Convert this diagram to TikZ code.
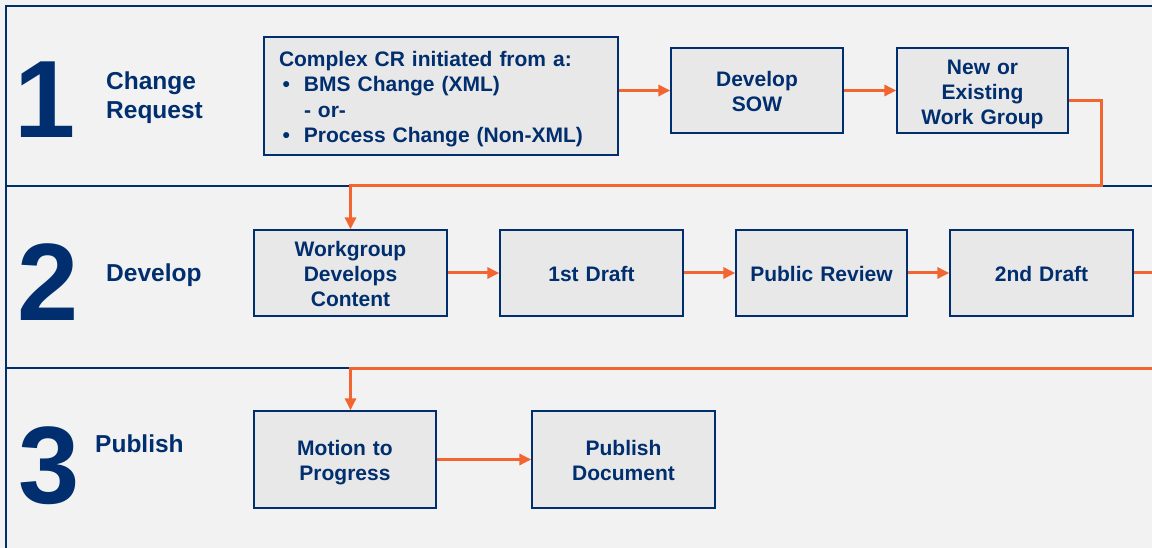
\documentclass[tikz,border=0pt]{standalone}
\usepackage{fontspec}
\setmainfont{Liberation Sans}
\usetikzlibrary{arrows.meta}
\definecolor{navy}{RGB}{0,46,110}
\definecolor{flowc}{RGB}{242,101,49}
\definecolor{panel}{RGB}{242,242,242}
\definecolor{boxfill}{RGB}{232,232,232}
\tikzset{
  stepbox/.style={draw=navy, line width=1.3pt, fill=boxfill, text=navy,
    font=\fontsize{21}{25}\selectfont\bfseries, text width=160, align=center, inner sep=0pt,
    execute at begin node={\rule{0pt}{21.5pt}},
    execute at end node={\rule[-4.3pt]{0pt}{4.3pt}}},
  flowline/.style={draw=flowc, line width=3pt, -{Triangle[length=12pt,width=11pt]}},
  phase/.style={text=navy, font=\fontsize{110}{110}\selectfont\bfseries,
    inner sep=0pt, anchor=base},
  phasename/.style={text=navy, font=\fontsize{24.5}{29}\selectfont\bfseries,
    inner sep=0pt, anchor=west, align=left}
}

\begin{document}
\begin{tikzpicture}[x=1pt,y=-1pt]
  \useasboundingbox (0,0) rectangle (1152,548);
  \clip (0,0) rectangle (1152,548);
  \fill[panel] (0,0) rectangle (1152,548);

  % frame and row dividers
  \draw[navy, line width=1.5pt] (1152,6) -- (6,6) -- (6,548);
  \foreach \y in {186, 368}{
    \draw[navy, line width=1.5pt] (6,\y) -- (1152,\y);
  };

  % phase numbers and names
  \node[phase] (num1) at (45,138) {1};
  \node[phase] (num2) at (48.5,320) {2};
  \node[phase] (num3) at (49.5,503) {3};
  \node[phasename] (name1) at (106,98) {Change\\Request};
  \node[phasename] (name2) at (106,275.5) {Develop};
  \node[phasename] (name3) at (95,444) {Publish};

  % row 1
  \node[stepbox, minimum width=354, minimum height=118, text width=324, align=left,
    font=\fontsize{21}{25.5}\selectfont\bfseries]
    (cr) at (441,96) {Complex CR initiated from a:\\
    \makebox[25pt][l]{\,\textbullet}BMS Change (XML)\\
    \hspace*{25pt}- or-\\
    \makebox[25pt][l]{\,\textbullet}Process Change (Non-XML)};
  \node[stepbox, minimum width=172, minimum height=85] (sow) at (757,90.5) {Develop\\SOW};
  \node[stepbox, minimum width=171, minimum height=85] (wg) at (982.5,90.5) {New or\\Existing\\Work Group};

  % row 2
  \node[stepbox, minimum width=193, minimum height=86] (wgdev) at (350.5,273) {Workgroup\\Develops\\Content};
  \node[stepbox, minimum width=183, minimum height=86] (draft1) at (591.5,273) {1st Draft};
  \node[stepbox, minimum width=171, minimum height=86] (review) at (821.5,273) {Public Review};
  \node[stepbox, minimum width=183, minimum height=86] (draft2) at (1041.5,273) {2nd Draft};

  % row 3
  \node[stepbox, minimum width=182, minimum height=97] (motion) at (345,459.5) {Motion to\\Progress};
  \node[stepbox, minimum width=183, minimum height=97] (publish) at (623.5,459.5) {Publish\\Document};

  % connectors
  \coordinate (turn1) at (1101,186);
  \coordinate (turn2) at (1180,368);
  \draw[flowline] (cr.east |- sow.west) -- (sow.west);
  \draw[flowline] (sow) -- (wg);
  \draw[flowline] ([yshift=-10.5pt]wg.east) -| (turn1) -| (wgdev.north);
  \draw[flowline] (wgdev) -- (draft1);
  \draw[flowline] (draft1) -- (review);
  \draw[flowline] (review) -- (draft2);
  \draw[flowline] (draft2.east) -| (turn2) -| (motion.north -| wgdev.north);
  \draw[flowline] (motion) -- (publish);
\end{tikzpicture}
\end{document}
